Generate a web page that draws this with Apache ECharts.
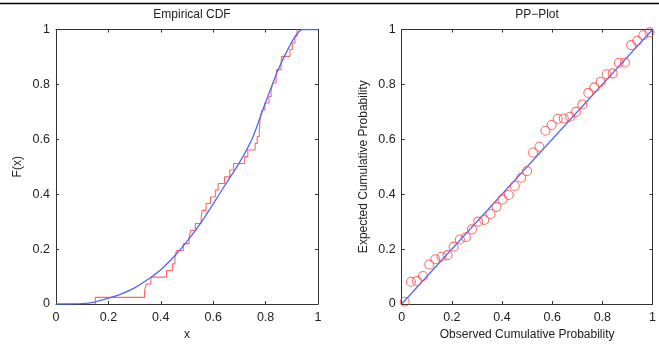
<!DOCTYPE html>
<html>
<head>
<meta charset="utf-8">
<script src="https://cdn.jsdelivr.net/npm/echarts@6/dist/echarts.min.js"></script>
<style>
html,body{margin:0;padding:0;background:#fff;}
#chart{width:659px;height:346px;}
</style>
</head>
<body>
<div id="chart"></div>
<script>
// Theoretical CDF
var cdfX = [0, 0.05, 0.1, 0.15, 0.2, 0.25, 0.3, 0.35, 0.4, 0.45, 0.5, 0.55, 0.6, 0.65, 0.7, 0.75, 0.8, 0.85, 0.9, 0.925, 0.94, 1];
var cdfY = [0, 0, 0.001, 0.008, 0.021, 0.037, 0.059, 0.089, 0.125, 0.172, 0.228, 0.292, 0.365, 0.44, 0.515, 0.605, 0.735, 0.858, 0.955, 0.99, 1, 1];

// Sorted sample values (empirical CDF step positions) and step levels
var sampleX = [0.15, 0.338, 0.345, 0.362, 0.422, 0.444, 0.454, 0.46, 0.486, 0.508, 0.514, 0.532, 0.554, 0.558, 0.573, 0.59, 0.608, 0.619, 0.643, 0.663, 0.678, 0.72, 0.732, 0.76, 0.768, 0.776, 0.778, 0.78, 0.787, 0.797, 0.813, 0.821, 0.828, 0.84, 0.842, 0.859, 0.861, 0.893, 0.902, 0.912, 0.92];
var stepY = [0.024, 0.049, 0.073, 0.098, 0.122, 0.146, 0.171, 0.195, 0.220, 0.244, 0.268, 0.293, 0.317, 0.341, 0.366, 0.390, 0.415, 0.439, 0.463, 0.488, 0.512, 0.537, 0.561, 0.585, 0.610, 0.634, 0.659, 0.683, 0.707, 0.732, 0.756, 0.780, 0.805, 0.829, 0.854, 0.878, 0.902, 0.927, 0.951, 0.976, 1];

// PP-plot points
var ppObs = [0.012, 0.037, 0.061, 0.085, 0.110, 0.134, 0.159, 0.183, 0.207, 0.232, 0.256, 0.280, 0.305, 0.329, 0.354, 0.378, 0.402, 0.427, 0.451, 0.476, 0.500, 0.524, 0.549, 0.573, 0.598, 0.622, 0.646, 0.671, 0.695, 0.720, 0.744, 0.768, 0.793, 0.817, 0.841, 0.866, 0.890, 0.915, 0.939, 0.963, 0.988];
var ppExp = [0.008, 0.081, 0.084, 0.102, 0.144, 0.163, 0.172, 0.178, 0.209, 0.235, 0.243, 0.272, 0.300, 0.306, 0.328, 0.354, 0.381, 0.397, 0.430, 0.460, 0.484, 0.552, 0.573, 0.631, 0.652, 0.675, 0.676, 0.682, 0.700, 0.727, 0.769, 0.789, 0.809, 0.837, 0.840, 0.879, 0.880, 0.943, 0.959, 0.979, 0.990];
var refLineX = [0, 1];
var refLineY = [0, 1];

var tickLabels = ['0', '0.2', '0.4', '0.6', '0.8', '1'];

var FONT = '"Liberation Sans", Arial, Helvetica, sans-serif';
var RED = '#ff4a4a';
var BLUE = '#4f66ff';
var AXC = '#333';

function valAxis(gridIndex, position, showLabels, name, nameGap, isY) {
  return {
    type: 'value', gridIndex: gridIndex, position: position,
    min: 0, max: 1, interval: 0.2,
    name: name || '', nameLocation: 'middle', nameGap: nameGap || 0,
    nameTextStyle: {fontFamily: FONT, fontSize: 12, color: '#222'},
    axisLine: {show: true, onZero: false, lineStyle: {color: AXC, width: 1}},
    axisTick: {show: true, inside: true, length: 3, lineStyle: {color: AXC}},
    axisLabel: {show: showLabels, fontFamily: FONT, fontSize: 12.5, color: '#222', margin: isY ? 6 : 7,
      formatter: function (v) { var i = Math.round(v * 5); return tickLabels[i]; }},
    splitLine: {show: false}
  };
}

var ecdfData = [[sampleX[0], 0]];
for (var i = 0; i < sampleX.length; i++) ecdfData.push([sampleX[i], stepY[i]]);
var cdfData = cdfX.map(function (x, i) { return [x, cdfY[i]]; });
var ppData = ppObs.map(function (x, i) { return [x, ppExp[i]]; });
var refData = refLineX.map(function (x, i) { return [x, refLineY[i]]; });

var chart = echarts.init(document.getElementById('chart'), null, {renderer: 'canvas'});
chart.setOption({
  animation: false,
  backgroundColor: '#fff',
  title: [
    {text: 'Empirical CDF', left: 187, top: 4, textAlign: 'center',
      textStyle: {fontFamily: FONT, fontSize: 12, fontWeight: 'normal', color: '#222'}},
    {text: 'PP\u2212Plot', left: 532, top: 4, textAlign: 'center',
      textStyle: {fontFamily: FONT, fontSize: 12, fontWeight: 'normal', color: '#222'}}
  ],
  graphic: [
    {type: 'line', shape: {x1: 0, y1: 3.5, x2: 659, y2: 3.5}, style: {stroke: '#000', lineWidth: 1.5}, z: 100}
  ],
  grid: [
    {left: 56, top: 29.5, width: 262, height: 274.5},
    {left: 401.7, top: 29.5, width: 262, height: 274.5}
  ],
  xAxis: [
    valAxis(0, 'bottom', true, 'x', 22, false),
    valAxis(0, 'top', false),
    valAxis(1, 'bottom', true, 'Observed Cumulative Probability', 22, false),
    valAxis(1, 'top', false)
  ],
  yAxis: [
    valAxis(0, 'left', true, 'F(x)', 32, true),
    valAxis(0, 'right', false),
    valAxis(1, 'left', true, 'Expected Cumulative Probability', 32, true),
    valAxis(1, 'right', false)
  ],
  series: [
    {type: 'line', xAxisIndex: 0, yAxisIndex: 0, data: ecdfData, step: 'end', showSymbol: false,
      lineStyle: {color: RED, width: 1.1, opacity: 0.85}, z: 2},
    {type: 'line', xAxisIndex: 0, yAxisIndex: 0, data: cdfData, smooth: 0.25, showSymbol: false,
      lineStyle: {color: BLUE, width: 1.3}, z: 3},
    {type: 'line', xAxisIndex: 2, yAxisIndex: 2, data: refData, showSymbol: false,
      lineStyle: {color: BLUE, width: 1.2}, z: 2},
    {type: 'scatter', xAxisIndex: 2, yAxisIndex: 2, data: ppData, symbol: 'circle', symbolSize: 9,
      itemStyle: {color: 'rgba(0,0,0,0)', borderColor: RED, borderWidth: 1.1}, z: 3}
  ]
});
</script>
</body>
</html>
